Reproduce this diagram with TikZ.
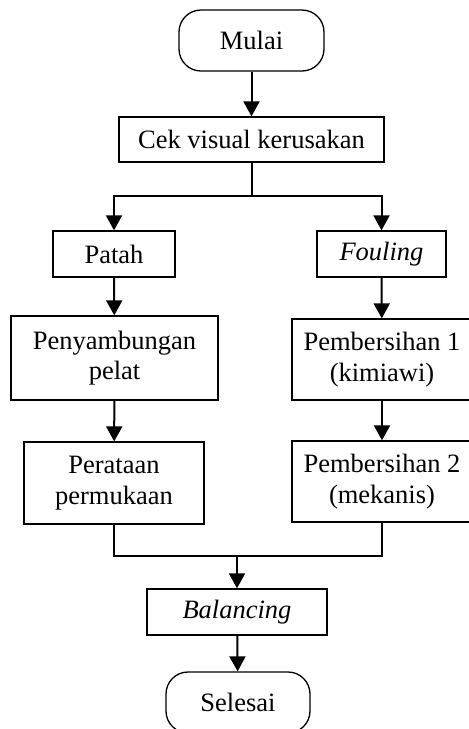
\documentclass[tikz,border=0pt]{standalone}
\usepackage{fontspec}
\setmainfont{Liberation Serif}
\usetikzlibrary{arrows.meta}
\begin{document}
\begin{tikzpicture}[x=1pt,y=1pt,
  box/.style={draw, line width=1.3pt, align=center, inner sep=0pt,
    font=\fontsize{26.5}{30.5}\selectfont},
  term/.style={box, rounded corners=22pt},
  conn/.style={line width=2pt},
  arr/.style={conn, -{Triangle[length=15pt,width=16pt]}}]
\useasboundingbox (0,0) rectangle (469,-729);
\clip (0,0) rectangle (469,-729);
\fill[white] (0,0) rectangle (469,-729);
\node[term, minimum width=145pt, minimum height=61pt] (mulai) at (251.5,-40.5) {Mulai};
\node[box, minimum width=265pt, minimum height=45pt] (cek) at (251.5,-139.5) {Cek visual kerusakan};
\node[box, minimum width=122pt, minimum height=46pt] (patah) at (114,-254) {Patah};
\node[box, minimum width=129pt, minimum height=46pt] (fouling) at (381.5,-254) {\itshape Fouling};
\node[box, minimum width=207pt, minimum height=84pt] (sambung) at (114.5,-358) {Penyambungan\\pelat};
\node[box, minimum width=180pt, minimum height=81pt] (bersih1) at (382,-359.5) {Pembersihan 1\\(kimiawi)};
\node[box, minimum width=180pt, minimum height=82pt] (rata) at (114,-483) {Perataan\\permukaan};
\node[box, minimum width=180pt, minimum height=81pt] (bersih2) at (382,-481.5) {Pembersihan 2\\(mekanis)};
\node[box, minimum width=180pt, minimum height=46pt] (bal) at (237,-612) {\itshape Balancing};
\node[term, minimum width=144pt, minimum height=61pt] (selesai) at (238,-702.5) {Selesai};
\coordinate (br) at (251.5,-196);
\coordinate (mg) at (237,-556);
\draw[arr] (mulai) -- (cek);
\draw[conn] (cek.south) -- (br);
\draw[arr] (br) -| (patah.north);
\draw[arr] (br) -| (fouling.north);
\draw[arr] (patah) -- (sambung);
\draw[arr] (sambung) -- (rata);
\draw[arr] (fouling) -- (bersih1);
\draw[arr] (bersih1) -- (bersih2);
\draw[conn] (rata.south) |- (mg) -| (bersih2.south);
\draw[arr] (mg) -- (bal.north);
\draw[arr] (bal) -- (selesai);
\end{tikzpicture}
\end{document}
